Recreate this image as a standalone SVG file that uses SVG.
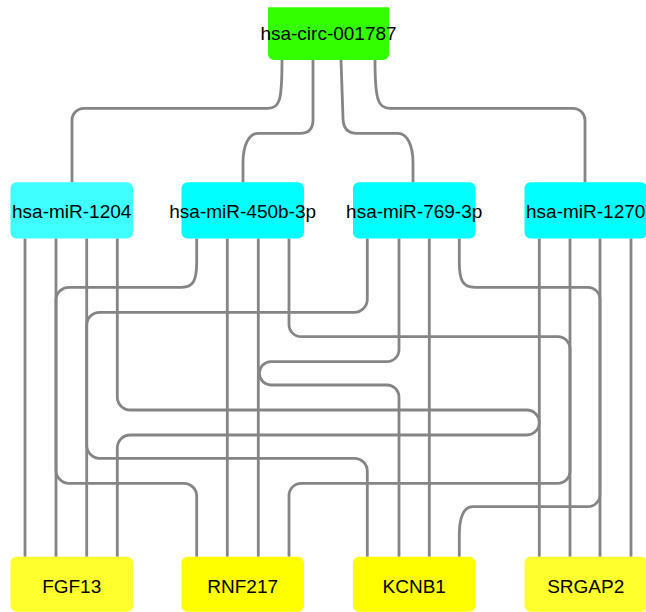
<svg xmlns="http://www.w3.org/2000/svg" width="646" height="612" viewBox="0 0 646 612">
<style>
.e{fill:none;stroke:#858585;stroke-width:2.8;stroke-linecap:butt;stroke-linejoin:round}
.t{font-family:"Liberation Sans",Arial,sans-serif;font-size:19px;fill:#000;text-anchor:middle}
.mi{fill:#00FFFF}
.ge{fill:#FFFF00}
</style>
<rect width="646" height="612" fill="#ffffff"/>
<g id="edges">
<!-- circ to miRNAs -->
<path class="e" d="M282,60 C282,100 280,108.3 268,108.3 L84,108.3 A12,12 0 0 0 72,120.3 L72,182.5"/>
<path class="e" d="M313,60 L313,120 C313,129 309,133.3 300,133.3 L258,133.3 C249,133.3 243,145 243,163 L243,182.5"/>
<path class="e" d="M341,60 L343,118 C343,128 348,133.3 357,133.3 L398,133.3 C407,133.3 413,145 413,163 L413,182.5"/>
<path class="e" d="M375,60 C375,100 378,108.3 390,108.3 L573,108.3 A12,12 0 0 1 585,120.3 L585,182.5"/>
<!-- straight miRNA to gene -->
<path class="e" d="M25,238.5 L25,556.7"/>
<path class="e" d="M56,238.5 L56,556.7"/>
<path class="e" d="M86.7,238.5 L86.7,556.7"/>
<path class="e" d="M227.3,238.5 L227.3,556.7"/>
<path class="e" d="M258.3,238.5 L258.3,556.7"/>
<path class="e" d="M429.3,238.5 L429.3,556.7"/>
<path class="e" d="M539.3,238.5 L539.3,556.7"/>
<path class="e" d="M570,238.5 L570,556.7"/>
<path class="e" d="M600,238.5 L600,556.7"/>
<path class="e" d="M631,238.5 L631,556.7"/>
<!-- routed -->
<path class="e" d="M196.7,238.5 L196.7,262 C196.7,281 193,287.3 181.7,287.3 L69,287.3 A13,13 0 0 0 56,300.3 L56,470.3 A13,13 0 0 0 69,483.3 L183.7,483.3 A13,13 0 0 1 196.7,496.3 L196.7,556.7"/>
<path class="e" d="M367.3,238.5 L367.3,299.3 A13,13 0 0 1 354.3,312.3 L99.7,312.3 A13,13 0 0 0 86.7,325.3 L86.7,445.3 A13,13 0 0 0 99.7,458.3 L354.3,458.3 A13,13 0 0 1 367.3,471.3 L367.3,556.7"/>
<path class="e" d="M117.3,238.5 L117.3,397 A13,13 0 0 0 130.3,410 L526.8,410 A12.5,12.5 0 0 1 526.8,435 L130.3,435 A13,13 0 0 0 117.3,448 L117.3,556.7"/>
<path class="e" d="M289,238.5 L289,324.5 A12.2,12.2 0 0 0 301.2,336.7 L557.8,336.7 A12.2,12.2 0 0 1 570,348.9 L570,471.1 A12.2,12.2 0 0 1 557.8,483.3 L301.2,483.3 A12.2,12.2 0 0 0 289,495.5 L289,556.7"/>
<path class="e" d="M399,238.5 L399,349.5 A12.2,12.2 0 0 1 386.8,361.7 L271,361.7 A11.65,11.65 0 0 0 271,385 L386.8,385 A12.2,12.2 0 0 1 399,397.2 L399,556.7"/>
<path class="e" d="M459.3,238.5 L459.3,262 C459.3,281 463,287.3 475,287.3 L587.8,287.3 A12.2,12.2 0 0 1 600,299.5 L600,494.5 A12.2,12.2 0 0 1 587.8,506.7 L473,506.7 C463,506.7 459.3,517 459.3,536 L459.3,556.7"/>
</g>
<g id="node-circ">
<path d="M268,7.3 L389,7.3 L389,54 A6,6 0 0 1 383,60 L274,60 A6,6 0 0 1 268,54 Z" fill="#33FF00"/>
<text class="t" x="328.5" y="39.7">hsa-circ-001787</text>
</g>
<g id="node-miR-1204">
<rect x="10.5" y="182.3" width="122.5" height="56.2" rx="6" fill="#40FFFF"/>
<text class="t" x="71.7" y="218">hsa-miR-1204</text>
</g>
<g id="node-miR-450b-3p">
<rect class="mi" x="181.5" y="182.3" width="122.5" height="56.2" rx="6"/>
<text class="t" x="242.7" y="218">hsa-miR-450b-3p</text>
</g>
<g id="node-miR-769-3p">
<rect class="mi" x="353" y="182.3" width="122.5" height="56.2" rx="6"/>
<text class="t" x="414.2" y="218">hsa-miR-769-3p</text>
</g>
<g id="node-miR-1270">
<rect class="mi" x="524.5" y="182.3" width="122.5" height="56.2" rx="6"/>
<text class="t" x="585.7" y="218">hsa-miR-1270</text>
</g>
<g id="node-FGF13">
<rect x="10.5" y="556.7" width="122.5" height="55" rx="6" fill="#FFFF2E"/>
<text class="t" x="71.7" y="592.5">FGF13</text>
</g>
<g id="node-RNF217">
<rect class="ge" x="181.5" y="556.7" width="122.5" height="55" rx="6"/>
<text class="t" x="242.7" y="592.5">RNF217</text>
</g>
<g id="node-KCNB1">
<rect class="ge" x="353" y="556.7" width="122.5" height="55" rx="6"/>
<text class="t" x="414.2" y="592.5">KCNB1</text>
</g>
<g id="node-SRGAP2">
<rect x="524.5" y="556.7" width="122.5" height="55" rx="6" fill="#FFFF2E"/>
<text class="t" x="585.7" y="592.5">SRGAP2</text>
</g>
</svg>
